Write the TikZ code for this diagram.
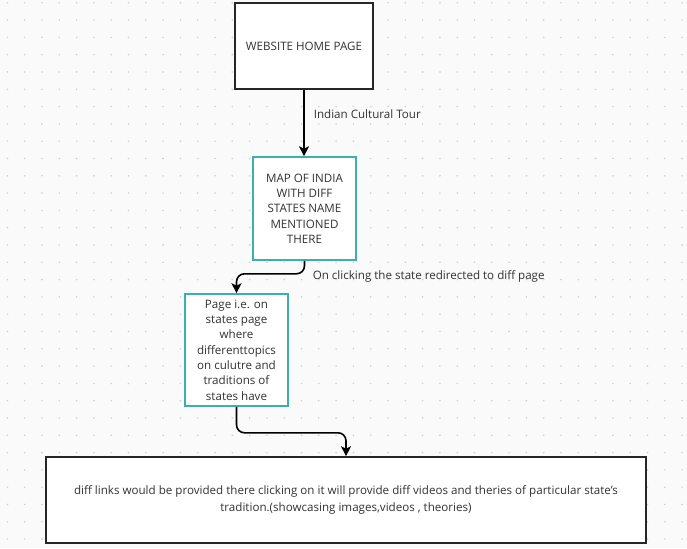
\documentclass[tikz,border=0pt]{standalone}
\usepackage{fontspec}
\setmainfont{Open Sans}
\usetikzlibrary{arrows.meta}
\definecolor{cteal}{RGB}{62,176,171}
\definecolor{ctext}{RGB}{50,50,50}
\definecolor{cdot}{RGB}{208,208,212}
\definecolor{cback}{RGB}{250,250,250}

\begin{document}
\begin{tikzpicture}[x=1pt,y=-1pt,>={Stealth[length=10pt,width=10pt,inset=2.5pt]},line width=1.6pt,
  box font/.style={font=\fontsize{11.6}{15.3}\selectfont},
  black node/.style={rectangle,draw=black!85,fill=white,text=ctext,align=center,inner sep=0pt,box font},
  teal node/.style={rectangle,draw=cteal,fill=white,text=ctext,align=center,inner sep=0pt,box font},
  note node/.style={text=ctext,anchor=west,inner sep=0pt,box font}]
  % background and dot grid
  \fill[cback] (0,0) rectangle (687,548);
  \useasboundingbox (0,0) rectangle (687,548);
  \foreach \i in {0,...,39}
    \foreach \j in {0,...,31}
      \fill[cdot] (7.4+17.3*\i,2.8+17.3*\j) circle (0.9pt);

  \node[black node,minimum width=138pt,minimum height=86pt] (home) at (304,46) {WEBSITE HOME PAGE};
  \node[teal node,minimum width=103pt,minimum height=103pt] (map) at (304.5,208.5)
    {MAP OF INDIA\\WITH DIFF\\STATES NAME\\MENTIONED\\THERE};
  \node[teal node,minimum width=103pt,minimum height=112pt] (page) at (236.5,350)
    {Page i.e. on\\states page\\where\\differenttopics\\on culutre and\\traditions of\\states have};
  \node[black node,minimum width=600pt,minimum height=86pt,font=\fontsize{11.6}{17}\selectfont] (links) at (346,500)
    {diff links would be provided there clicking on it will provide diff videos and theries of particular state’s\\
     tradition.(showcasing images,videos , theories)};

  \node[note node] (tour) at (313,114) {Indian Cultural Tour};
  \node[note node] (click) at (312,276) {On clicking the state redirected to diff page};

  \draw[->] (home.south) -- (home.south |- map.north);
  \draw[->,rounded corners=8pt] (map.south) -- ++(0,13) -| (page.north);
  \draw[->,rounded corners=8pt] (page.south) -- ++(0,26) -| (links.north);
\end{tikzpicture}
\end{document}
